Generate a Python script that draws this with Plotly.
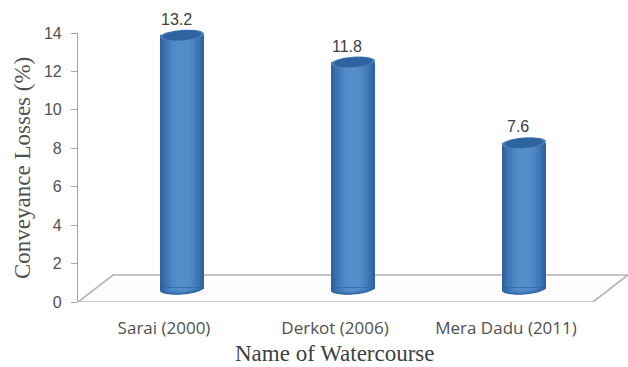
import numpy as np
import plotly.graph_objects as go

categories = ["Sarai (2000)", "Derkot (2006)", "Mera Dadu (2011)"]
losses = [13.2, 11.8, 7.6]
y_ticks = [0, 2, 4, 6, 8, 10, 12, 14]

W, H = 628, 367
L, R, T, B = 78, 0, 13, 65
plot_w, plot_h = W - L - R, H - T - B
axis_h = 269                    # px from 0 to 14 on the value axis
y_unit = axis_h / 14            # px per percentage point
x_unit = 171                    # px per category
x_min = -86 / x_unit
x_max = x_min + plot_w / x_unit

# The columns stand in the middle of the floor, so they sit on an axis
# lifted and shifted by half of the floor depth.
lift_px = 13
shift = 18 / x_unit
bar_w = 44 / x_unit

# Cylinder shading: from the dark rim towards the lighter middle
bands = [
    (1.00, "#2f639f"), (0.92, "#3369a8"), (0.82, "#3a72b2"), (0.70, "#427bbb"),
    (0.56, "#4a84c3"), (0.42, "#5089c8"), (0.26, "#558dcb"),
]


def ellipse_path(cx, cy, frac, lower_only=False):
    """Slightly tilted ellipse in axis units, for the column ends."""
    if lower_only:
        t = np.linspace(np.pi, 2 * np.pi, 25)
    else:
        t = np.linspace(0, 2 * np.pi, 49)[:-1]
    ex = 22 * frac * np.cos(t)
    ey = 5.5 * frac * np.sin(t) + 1.6 * frac * np.cos(t)
    if lower_only:
        # close over the top so the arc joins the column without a gap
        ex = np.append(ex, -22 * frac)
        ey = np.append(ey, 1.6 * frac)
    xs = cx + ex / x_unit
    ys = cy + ey / y_unit
    pts = [f"{a:.4f},{b:.4f}" for a, b in zip(xs, ys)]
    return "M" + "L".join(pts) + "Z"


fig = go.Figure()
xs = [i + shift for i in range(len(categories))]

for frac, colour in bands:
    fig.add_bar(
        x=xs, y=losses, width=bar_w * frac, yaxis="y2",
        marker=dict(color=colour, line_width=0), showlegend=False,
    )

shapes = []

# Floor of the 3D plot
depth_x = 35 / x_unit
depth_y = 27 / y_unit
x_left = x_min
x_front_right = x_min + 515 / x_unit
shapes.append(dict(
    type="path", xref="x", yref="y", layer="below",
    path=(f"M{x_left},0 L{x_front_right},0 L{x_front_right + depth_x},{depth_y} "
          f"L{x_left + depth_x},{depth_y} Z"),
    line=dict(color="#b4b4b4", width=1.6), fillcolor="#fdfdfd",
))

# Column ends: shaded bottoms and a darker, rimmed top
for x, v in zip(xs, losses):
    for frac, colour in bands:
        shapes.append(dict(type="path", xref="x", yref="y2", line_width=0,
                           fillcolor=colour, path=ellipse_path(x, 0, frac, lower_only=True)))
    shapes.append(dict(type="path", xref="x", yref="y2", line_width=0,
                       fillcolor="#4a80bd", path=ellipse_path(x, v, 1.0)))
    shapes.append(dict(type="path", xref="x", yref="y2", line_width=0,
                       fillcolor="#2f639f", path=ellipse_path(x, v, 0.88)))

annotations = [
    dict(x=x - 6 / x_unit, y=v, xref="x", yref="y2", text=f"{v:.1f}", showarrow=False,
         yshift=16, font=dict(family="Liberation Sans", size=16, color="#404040"))
    for x, v in zip(xs, losses)
]
# Axis titles sit at fixed page positions, converted to plot-area fractions
annotations += [
    dict(x=(22 - L) / plot_w, y=(H - B - 168) / plot_h, xref="paper", yref="paper",
         xanchor="center", yanchor="middle",
         text="Conveyance Losses (%)", textangle=-90, showarrow=False,
         font=dict(family="Liberation Serif", size=23, color="#505050")),
    dict(x=(335 - L) / plot_w, y=(H - B - 353) / plot_h, xref="paper", yref="paper",
         xanchor="center", yanchor="middle",
         text="Name of Watercourse", showarrow=False,
         font=dict(family="Liberation Serif", size=23, color="#404040")),
]

fig.update_layout(
    width=W, height=H, margin=dict(l=L, r=R, t=T, b=B, pad=0),
    paper_bgcolor="white", plot_bgcolor="rgba(0,0,0,0)",
    barmode="overlay", bargap=0, showlegend=False,
    shapes=shapes, annotations=annotations,
    xaxis=dict(
        range=[x_min, x_max], tickvals=list(range(len(categories))), ticktext=categories,
        showgrid=False, zeroline=False, showline=False, ticks="",
        tickfont=dict(family="Open Sans", size=17, color="#505050"),
        ticklabelstandoff=14,
    ),
    yaxis=dict(
        domain=[0, axis_h / plot_h],
        range=[0, 14], tickvals=y_ticks, showgrid=False, zeroline=False,
        showline=True, linecolor="#a6a6a6", linewidth=1.2,
        ticks="outside", ticklen=6, tickcolor="#a6a6a6", tickwidth=1.2,
        tickfont=dict(family="Liberation Sans", size=16, color="#505050"),
        ticklabelstandoff=6,
    ),
    # Value axis of the columns: same scale, zero raised to the floor's centre line
    yaxis2=dict(
        visible=False, anchor="x", domain=[0, 1],
        range=[-lift_px / y_unit, (plot_h - lift_px) / y_unit],
    ),
)

fig.write_html("out.html")
